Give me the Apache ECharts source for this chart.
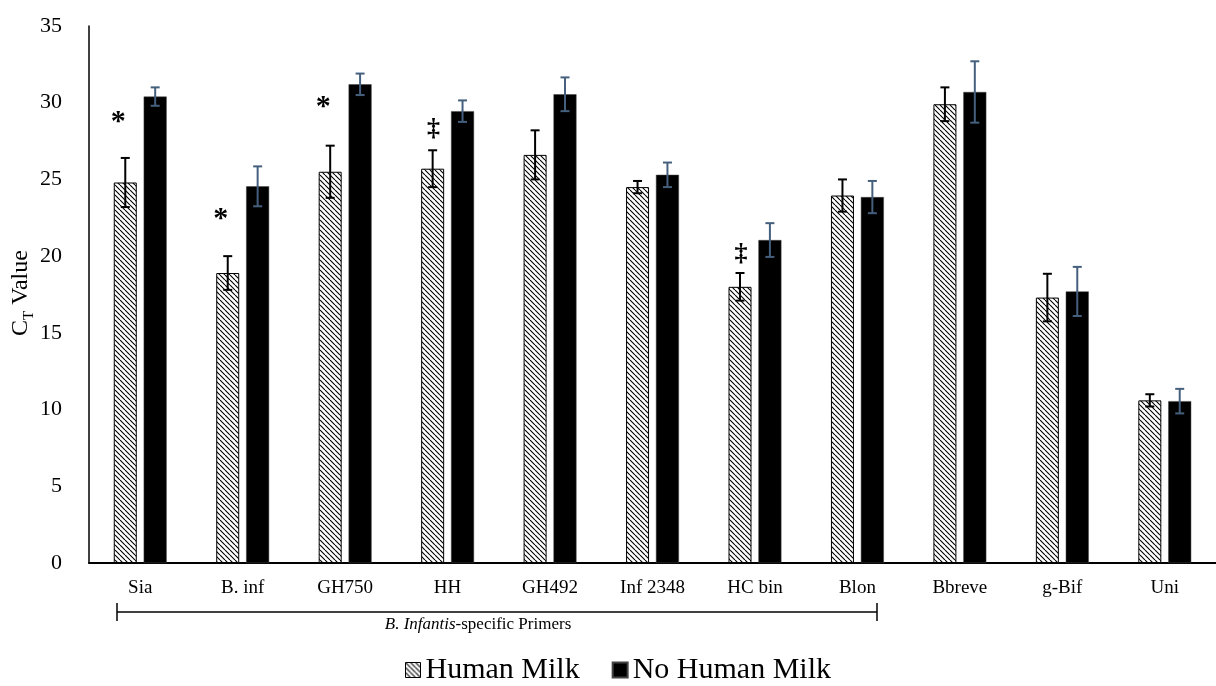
<!DOCTYPE html>
<html>
<head>
<meta charset="utf-8">
<script src="https://cdn.jsdelivr.net/npm/echarts@6/dist/echarts.min.js"></script>
<style>
html,body{margin:0;padding:0;background:#fff;}
#chart{width:1216px;height:686px;}
</style>
</head>
<body>
<div id="chart"></div>
<script>
// ---- data ----
const categories = ['Sia', 'B. inf', 'GH750', 'HH', 'GH492', 'Inf 2348', 'HC bin', 'Blon', 'Bbreve', 'g-Bif', 'Uni'];
const humanMilk      = [24.8, 18.9, 25.5, 25.7, 26.6, 24.5, 18.0, 23.95, 29.9, 17.3, 10.6];
const humanMilkErr   = [1.6, 1.1, 1.7, 1.2, 1.6, 0.4, 0.9, 1.05, 1.1, 1.55, 0.4];
const noHumanMilk    = [30.4, 24.55, 31.2, 29.45, 30.55, 25.3, 21.05, 23.85, 30.7, 17.7, 10.55];
const noHumanMilkErr = [0.6, 1.3, 0.7, 0.7, 1.1, 0.8, 1.1, 1.05, 2.0, 1.6, 0.8];
const sigIndex  = [0, 1, 2, 3, 6];
const sigValue  = [28.7, 22.4, 29.7, 28.3, 20.1];
const sigSymbol = ['*', '*', '*', '‡', '‡'];
const yTicks = [0, 35, 5];
const seriesNames = ['Human Milk', 'No Human Milk'];
const groupLabel = ['B. Infantis', '-specific Primers'];

// ---- hatch pattern ----
function makeHatch() {
  const s = 5;
  const c = document.createElement('canvas');
  c.width = s; c.height = s;
  const g = c.getContext('2d');
  g.fillStyle = '#fff';
  g.fillRect(0, 0, s, s);
  g.strokeStyle = '#000';
  g.lineWidth = 1.1;
  g.beginPath();
  for (const k of [-s, 0, s]) {
    g.moveTo(k, 0);
    g.lineTo(k + s, s);
  }
  g.stroke();
  return c;
}
const hatch = { image: makeHatch(), repeat: 'repeat' };

const FONT = 'Liberation Serif';
const BAR_W = 23;
const OFF = 14.95;

function errData(vals, errs) {
  return vals.map((v, i) => [i, v - errs[i], v + errs[i]]);
}

function errRender(offset, color) {
  return function (params, api) {
    const i = api.value(0);
    const x = api.coord([i, 0])[0] + offset;
    const yt = api.coord([i, api.value(2)])[1];
    const yb = api.coord([i, api.value(1)])[1];
    const st = { stroke: color, lineWidth: 2 };
    const hw = 4.5;
    return {
      type: 'group',
      children: [
        { type: 'line', shape: { x1: x, y1: yt, x2: x, y2: yb }, style: st },
        { type: 'line', shape: { x1: x - hw, y1: yt, x2: x + hw, y2: yt }, style: st },
        { type: 'line', shape: { x1: x - hw, y1: yb, x2: x + hw, y2: yb }, style: st }
      ]
    };
  };
}

const chart = echarts.init(document.getElementById('chart'), null, { renderer: 'canvas' });

const option = {
  animation: false,
  backgroundColor: '#fff',
  textStyle: { fontFamily: FONT, color: '#000' },
  grid: { left: 89, right: 0, top: 26, bottom: 123, containLabel: false },
  legend: {
    left: 400,
    top: 650,
    itemWidth: 15,
    itemHeight: 15,
    itemGap: 32,
    icon: 'rect',
    textStyle: { fontFamily: FONT, fontSize: 30, color: '#000' },
    data: [
      { name: seriesNames[0], itemStyle: { color: hatch, borderColor: '#000', borderWidth: 1 } },
      { name: seriesNames[1], itemStyle: { color: '#000' } }
    ]
  },
  xAxis: {
    type: 'category',
    data: categories,
    axisLine: { lineStyle: { color: '#000', width: 2 } },
    axisTick: { show: false },
    axisLabel: { fontFamily: FONT, fontSize: 19, color: '#000', margin: 16 }
  },
  yAxis: {
    type: 'value',
    min: yTicks[0],
    max: yTicks[1],
    interval: yTicks[2],
    axisLine: { show: true, lineStyle: { color: '#000', width: 1.5 } },
    axisTick: { show: false },
    splitLine: { show: false },
    axisLabel: { fontFamily: FONT, fontSize: 22, color: '#000', margin: 27 }
  },
  series: [
    {
      name: seriesNames[0],
      type: 'bar',
      data: humanMilk,
      barWidth: BAR_W,
      barGap: '30%',
      itemStyle: { color: hatch, borderColor: '#000', borderWidth: 1 },
      z: 2
    },
    {
      name: seriesNames[1],
      type: 'bar',
      data: noHumanMilk,
      barWidth: BAR_W,
      itemStyle: { color: '#000', borderColor: '#444', borderWidth: 0.5 },
      z: 2
    },
    {
      type: 'custom',
      name: 'errHM',
      data: errData(humanMilk, humanMilkErr),
      encode: { x: 0, y: [1, 2] },
      renderItem: errRender(-OFF, '#000'),
      z: 5,
      silent: true
    },
    {
      type: 'custom',
      name: 'errNHM',
      data: errData(noHumanMilk, noHumanMilkErr),
      encode: { x: 0, y: [1, 2] },
      renderItem: errRender(OFF, '#45607e'),
      z: 5,
      silent: true
    },
    {
      type: 'custom',
      name: 'sig',
      data: sigIndex.map((c, k) => [c, sigValue[k]]),
      encode: { x: 0, y: 1 },
      renderItem: function (params, api) {
        const p = api.coord([api.value(0), api.value(1)]);
        const sym = sigSymbol[params.dataIndex];
        const star = sym === '*';
        return {
          type: 'text',
          x: p[0] + (star ? -22 : -14),
          y: p[1],
          style: {
            text: sym,
            fontFamily: FONT,
            fontSize: star ? 30 : 26,
            fontWeight: 'bold',
            fill: '#000',
            align: 'center',
            verticalAlign: 'middle'
          }
        };
      },
      z: 6,
      silent: true
    }
  ],
  graphic: [
    {
      type: 'text',
      x: 25,
      y: 293,
      rotation: Math.PI / 2,
      style: {
        text: '{c|C}{t|T}{v| Value}',
        align: 'center',
        verticalAlign: 'middle',
        fill: '#000',
        rich: {
          c: { fontFamily: FONT, fontSize: 24, lineHeight: 24, verticalAlign: 'bottom', padding: [0, 0, 4, 0] },
          t: { fontFamily: FONT, fontSize: 15, lineHeight: 15, verticalAlign: 'bottom' },
          v: { fontFamily: FONT, fontSize: 24, lineHeight: 24, verticalAlign: 'bottom', padding: [0, 0, 4, 0] }
        }
      }
    },
    { type: 'line', shape: { x1: 117, y1: 612, x2: 877, y2: 612 }, style: { stroke: '#000', lineWidth: 1.5 } },
    { type: 'line', shape: { x1: 117, y1: 603, x2: 117, y2: 621 }, style: { stroke: '#000', lineWidth: 1.5 } },
    { type: 'line', shape: { x1: 877, y1: 603, x2: 877, y2: 621 }, style: { stroke: '#000', lineWidth: 1.5 } },
    {
      type: 'text',
      x: 478,
      y: 625,
      style: {
        text: '{i|' + groupLabel[0] + '}{n|' + groupLabel[1] + '}',
        align: 'center',
        verticalAlign: 'middle',
        fill: '#000',
        rich: {
          i: { fontFamily: FONT, fontSize: 17, fontStyle: 'italic' },
          n: { fontFamily: FONT, fontSize: 17 }
        }
      }
    }
  ]
};

chart.setOption(option);
</script>
</body>
</html>
